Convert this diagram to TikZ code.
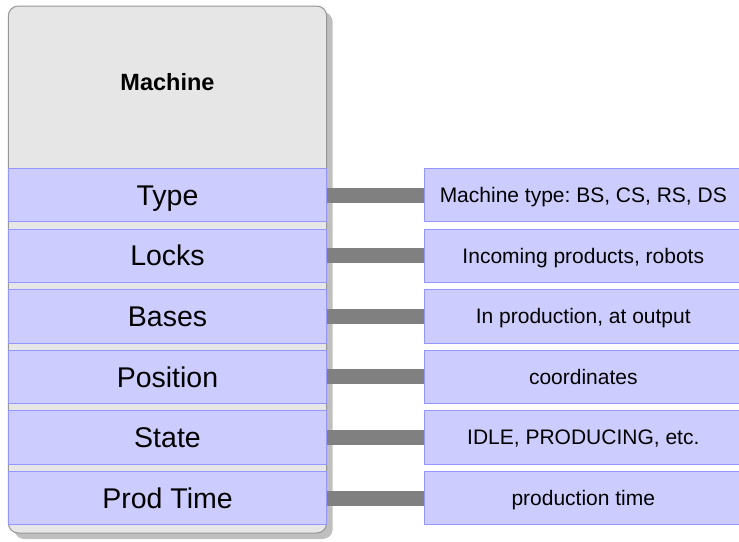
\documentclass[tikz,border=0pt]{standalone}
\usepackage{fontspec}
\setmainfont{Liberation Sans}
\usetikzlibrary{shadows}
\frenchspacing
\definecolor{boxfill}{RGB}{230,230,230}
\definecolor{boxline}{RGB}{150,150,150}
\definecolor{shadowgray}{RGB}{191,191,191}
\definecolor{rowfill}{RGB}{204,204,255}
\definecolor{rowline}{RGB}{150,150,255}
\definecolor{conngray}{RGB}{128,128,128}
\tikzset{
  mainbox/.style={draw=boxline, fill=boxfill, line width=1pt, rounded corners=10pt,
    minimum width=318.4pt, minimum height=527pt, inner sep=0pt, outer sep=0pt,
    drop shadow={shadow xshift=6pt, shadow yshift=-6pt, fill=shadowgray, opacity=1}},
  titletext/.style={font=\fontsize{23.5}{26}\selectfont\bfseries, inner sep=0pt,
    text height=16.8pt, text depth=0pt},
  rowbox/.style={draw=rowline, fill=rowfill, line width=0.8pt, minimum width=318.4pt,
    minimum height=53.4pt, inner sep=0pt, outer sep=0pt,
    font=\fontsize{28.5}{30}\selectfont, text height=20.4pt, text depth=0pt},
  descbox/.style={draw=rowline, fill=rowfill, line width=0.8pt, minimum width=318pt,
    minimum height=53.4pt, inner sep=0pt, outer sep=0pt,
    font=\fontsize{21}{24}\selectfont, text height=15pt, text depth=0pt},
  conn/.style={draw=conngray, line width=15pt}
}
\begin{document}
\begin{tikzpicture}[x=1pt,y=-1pt]
\useasboundingbox (0,0) rectangle (739,541);
\node[mainbox] (machine) at (167.5,269.5) {};
\node[titletext] (title) at (167.5,82.5) {Machine};
\foreach \i/\a/\b in {0/Type/{Machine type: BS, CS, RS, DS},
                      1/Locks/{Incoming products, robots},
                      2/Bases/{In production, at output},
                      3/Position/{coordinates},
                      4/State/{IDLE, PRODUCING, etc.},
                      5/Prod Time/{production time}}{
  \node[rowbox] (row\i) at (167.5,195+60.6*\i) {\a};
  \node[descbox] (desc\i) at (583.3,195+60.6*\i) {\b};
  \draw[conn] (row\i.east) -- (desc\i.west);
}
\end{tikzpicture}
\end{document}
